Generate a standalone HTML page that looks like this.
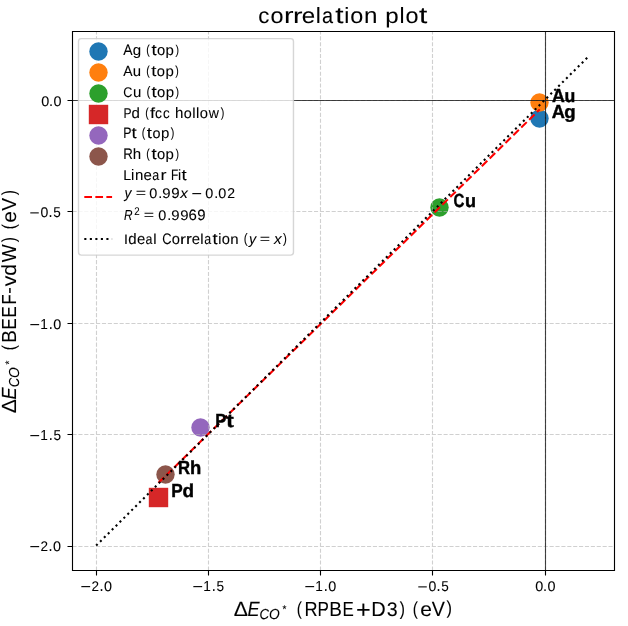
<!DOCTYPE html>
<html><head><meta charset="utf-8"><title>correlation plot</title>
<style>
html,body{margin:0;padding:0;background:#fff;}
body{width:628px;height:626px;overflow:hidden;}
svg{display:block;will-change:transform;}
text{stroke:#000;stroke-width:0.08px;font-family:"Liberation Sans",sans-serif;font-kerning:none;text-rendering:geometricPrecision;fill:#000;}
</style></head><body>
<svg width="628" height="626" viewBox="0 0 628 626">
<rect x="0" y="0" width="628" height="626" fill="#fff"/>
<g><circle cx="539.5" cy="118.5" r="9.2" fill="#1f77b4"/><circle cx="539.5" cy="102.5" r="9.2" fill="#ff7f0e"/><circle cx="439.5" cy="207.5" r="9.2" fill="#2ca02c"/><rect x="148.8" y="487.8" width="19.4" height="19.4" fill="#d62728"/><circle cx="200.5" cy="427.5" r="9.2" fill="#9467bd"/><circle cx="165.5" cy="474.5" r="9.2" fill="#8c564b"/></g>
<path d="M96.5 570.5V31.5M208.5 570.5V31.5M320.5 570.5V31.5M432.5 570.5V31.5M545.5 570.5V31.5M72.5 546.5H614.5M72.5 434.5H614.5M72.5 323.5H614.5M72.5 211.5H614.5M72.5 100.5H614.5" stroke="#b0b0b0" stroke-opacity="0.6" stroke-width="1.111" stroke-dasharray="4.11 1.78" fill="none"/>
<text transform="matrix(1.227 0 0 1.113 80.58 591.97)" font-size="14.58">−</text>
<text transform="matrix(0.929 0 0 0.961 91.52 590.81)" font-size="14.58">2</text>
<text transform="matrix(0.991 0 0 1.184 99.55 591)" font-size="14.58">.</text>
<text transform="matrix(0.988 0 0 0.961 104.08 590.82)" font-size="14.58">0</text>
<text transform="matrix(1.227 0 0 1.113 192.58 591.97)" font-size="14.58">−</text>
<text transform="matrix(0.935 0 0 0.993 203.33 591)" font-size="14.58">1</text>
<text transform="matrix(0.991 0 0 1.184 211.68 591)" font-size="14.58">.</text>
<text transform="matrix(0.933 0 0 0.981 216.41 590.84)" font-size="14.58">5</text>
<text transform="matrix(1.227 0 0 1.113 304.58 591.97)" font-size="14.58">−</text>
<text transform="matrix(0.935 0 0 0.993 315.33 591)" font-size="14.58">1</text>
<text transform="matrix(0.991 0 0 1.184 323.68 591)" font-size="14.58">.</text>
<text transform="matrix(0.988 0 0 0.963 328.21 590.84)" font-size="14.58">0</text>
<text transform="matrix(1.179 0 0 1.056 417.62 591.79)" font-size="14.58">−</text>
<text transform="matrix(0.965 0 0 0.969 428.56 590.86)" font-size="14.58">0</text>
<text transform="matrix(0.991 0 0 1.184 436.55 591)" font-size="14.58">.</text>
<text transform="matrix(0.928 0 0 0.98 441.32 590.83)" font-size="14.58">5</text>
<text transform="matrix(0.988 0 0 0.964 535.33 590.84)" font-size="14.58">0</text>
<text transform="matrix(0.994 0 0 0.89 542.92 590.75)" font-size="14.58">.</text>
<text transform="matrix(0.989 0 0 0.964 547.46 590.84)" font-size="14.58">0</text>
<text transform="matrix(1.227 0 0 1.113 29.58 551.97)" font-size="14.58">−</text>
<text transform="matrix(0.929 0 0 0.961 40.52 550.81)" font-size="14.58">2</text>
<text transform="matrix(0.991 0 0 1.184 48.55 551)" font-size="14.58">.</text>
<text transform="matrix(0.988 0 0 0.961 53.08 550.82)" font-size="14.58">0</text>
<text transform="matrix(1.227 0 0 1.113 29.58 440.97)" font-size="14.58">−</text>
<text transform="matrix(0.935 0 0 0.993 40.33 440)" font-size="14.58">1</text>
<text transform="matrix(0.991 0 0 1.184 48.68 440)" font-size="14.58">.</text>
<text transform="matrix(0.933 0 0 0.981 53.41 439.84)" font-size="14.58">5</text>
<text transform="matrix(1.227 0 0 1.113 29.58 329.97)" font-size="14.58">−</text>
<text transform="matrix(0.935 0 0 0.993 40.33 329)" font-size="14.58">1</text>
<text transform="matrix(0.991 0 0 1.184 48.68 329)" font-size="14.58">.</text>
<text transform="matrix(0.988 0 0 0.963 53.21 328.84)" font-size="14.58">0</text>
<text transform="matrix(1.179 0 0 1.056 29.62 217.79)" font-size="14.58">−</text>
<text transform="matrix(0.965 0 0 0.969 40.56 216.86)" font-size="14.58">0</text>
<text transform="matrix(0.991 0 0 1.184 48.55 217)" font-size="14.58">.</text>
<text transform="matrix(0.928 0 0 0.98 53.32 216.83)" font-size="14.58">5</text>
<text transform="matrix(0.988 0 0 0.964 41.33 105.84)" font-size="14.58">0</text>
<text transform="matrix(0.994 0 0 0.89 48.92 105.75)" font-size="14.58">.</text>
<text transform="matrix(0.989 0 0 0.964 53.46 105.84)" font-size="14.58">0</text>
<text transform="matrix(1.043 0 0 1.004 233.72 615.69)" font-size="20.42">Δ</text>
<text transform="matrix(0.887 0 0 1.004 247.45 615.69)" font-size="20.42" font-style="italic">E</text>
<text transform="matrix(0.921 0 0 1.012 259.61 618.84)" font-size="14.29" font-style="italic">C</text>
<text transform="matrix(0.964 0 0 1.012 269.06 618.84)" font-size="14.29" font-style="italic">O</text>
<text transform="matrix(1.007 0 0 1.139 282.46 613.34)" font-size="10">*</text>
<text transform="matrix(0.753 0 0 0.906 296.7 614.6)" font-size="20.42">(</text>
<text transform="matrix(0.888 0 0 0.997 304.39 616)" font-size="20.42">R</text>
<text transform="matrix(0.836 0 0 0.997 317.47 616)" font-size="20.42">P</text>
<text transform="matrix(0.927 0 0 0.997 329.32 616)" font-size="20.42">B</text>
<text transform="matrix(0.83 0 0 0.997 342.48 616)" font-size="20.42">E</text>
<text transform="matrix(1.235 0 0 1.201 355.89 618.16)" font-size="20.42">+</text>
<text transform="matrix(0.979 0 0 0.997 371.23 616)" font-size="20.42">D</text>
<text transform="matrix(0.96 0 0 0.966 386.75 615.79)" font-size="20.42">3</text>
<text transform="matrix(0.757 0 0 0.92 399.76 614.62)" font-size="20.42">)</text>
<text transform="matrix(0.753 0 0 0.906 412.7 614.6)" font-size="20.42">(</text>
<text transform="matrix(1.029 0 0 0.98 420.25 615.79)" font-size="20.42">e</text>
<text transform="matrix(0.963 0 0 1.004 431.83 615.69)" font-size="20.42">V</text>
<text transform="matrix(0.802 0 0 0.906 446.51 614.41)" font-size="20.42">)</text>
<g transform="rotate(-90)">
<text transform="matrix(1.044 0 0 1.003 -413.29 15.68)" font-size="20.42">Δ</text>
<text transform="matrix(0.888 0 0 1.003 -399.53 15.68)" font-size="20.42" font-style="italic">E</text>
<text transform="matrix(0.923 0 0 1.011 -387.35 18.83)" font-size="14.29" font-style="italic">C</text>
<text transform="matrix(0.966 0 0 1.011 -377.89 18.83)" font-size="14.29" font-style="italic">O</text>
<text transform="matrix(1.004 0 0 1.136 -364.54 13.32)" font-size="10">*</text>
<text transform="matrix(0.751 0 0 0.906 -350.3 14.59)" font-size="20.42">(</text>
<text transform="matrix(0.926 0 0 0.996 -342.67 15.99)" font-size="20.42">B</text>
<text transform="matrix(0.829 0 0 0.996 -329.51 15.99)" font-size="20.42">E</text>
<text transform="matrix(0.829 0 0 0.996 -317.51 15.99)" font-size="20.42">E</text>
<text transform="matrix(0.819 0 0 0.996 -304.49 15.99)" font-size="20.42">F</text>
<text transform="matrix(1.026 0 0 0.939 -293.93 15.34)" font-size="20.42">-</text>
<text transform="matrix(1.026 0 0 0.98 -286.21 15.68)" font-size="20.42">v</text>
<text transform="matrix(1.032 0 0 1 -275.74 15.79)" font-size="20.42">d</text>
<text transform="matrix(0.927 0 0 0.996 -262.3 15.99)" font-size="20.42">W</text>
<text transform="matrix(0.755 0 0 0.919 -242.24 14.61)" font-size="20.42">)</text>
<text transform="matrix(0.751 0 0 0.906 -229.3 14.59)" font-size="20.42">(</text>
<text transform="matrix(1.027 0 0 0.979 -222.75 15.78)" font-size="20.42">e</text>
<text transform="matrix(0.936 0 0 0.996 -210.73 15.99)" font-size="20.42">V</text>
<text transform="matrix(0.755 0 0 0.919 -195.24 14.61)" font-size="20.42">)</text>
</g>
<path d="M96.5 570.5V575.5M208.5 570.5V575.5M320.5 570.5V575.5M432.5 570.5V575.5M545.5 570.5V575.5M72.5 546.5H67.5M72.5 434.5H67.5M72.5 323.5H67.5M72.5 211.5H67.5M72.5 100.5H67.5" stroke="#000" stroke-width="1.111" fill="none"/>
<path d="M158.4 482.85L539.75 109.38" stroke="#f00" stroke-width="2.083" stroke-dasharray="7.71 3.33" fill="none"/>
<path d="M96.15 545.6L589.4 55.6" stroke="#000" stroke-width="2.083" stroke-dasharray="2.083 3.4375" fill="none"/>
<path d="M72.5 100.5H614.5M545.5 570.5V31.5" stroke="#000" stroke-opacity="0.72" stroke-width="1.111" fill="none"/>
<path d="M72.5 570.5V31.5H614.5V570.5Z" stroke="#000" stroke-width="1.111" fill="none"/>
<text transform="matrix(1.012 0 0 1.08 552.06 102)" font-size="17.5" font-weight="bold" style="stroke-width:0.4px">A</text>
<text transform="matrix(1.012 0 0 1.062 564.55 102.07)" font-size="17.5" font-weight="bold" style="stroke-width:0.4px">u</text>
<text transform="matrix(1.04 0 0 1.08 551.7 118)" font-size="17.5" font-weight="bold" style="stroke-width:0.4px">A</text>
<text transform="matrix(1.065 0 0 1.052 564.36 117.95)" font-size="17.5" font-weight="bold" style="stroke-width:0.4px">g</text>
<text transform="matrix(0.858 0 0 1.089 453.38 207.07)" font-size="17.5" font-weight="bold" style="stroke-width:0.4px">C</text>
<text transform="matrix(1.03 0 0 1.062 464.92 207.07)" font-size="17.5" font-weight="bold" style="stroke-width:0.4px">u</text>
<text transform="matrix(0.947 0 0 1.08 215.29 427)" font-size="17.5" font-weight="bold" style="stroke-width:0.4px">P</text>
<text transform="matrix(1.279 0 0 1.082 226.32 426.83)" font-size="17.5" font-weight="bold" style="stroke-width:0.4px">t</text>
<text transform="matrix(0.954 0 0 1.08 177.98 474)" font-size="17.5" font-weight="bold" style="stroke-width:0.4px">R</text>
<text transform="matrix(1.056 0 0 1.068 190.05 474)" font-size="17.5" font-weight="bold" style="stroke-width:0.4px">h</text>
<text transform="matrix(0.982 0 0 1.08 171.15 497)" font-size="17.5" font-weight="bold" style="stroke-width:0.4px">P</text>
<text transform="matrix(1.079 0 0 1.074 182.61 497.07)" font-size="17.5" font-weight="bold" style="stroke-width:0.4px">d</text>
<text transform="matrix(0.953 0 0 0.935 258.34 22.76)" font-size="23.33">c</text>
<text transform="matrix(1.003 0 0 0.934 270.55 22.76)" font-size="23.33">o</text>
<text transform="matrix(1.222 0 0 0.956 283.98 23)" font-size="23.33">r</text>
<text transform="matrix(1.224 0 0 0.922 292.91 22.7)" font-size="23.33">r</text>
<text transform="matrix(1.032 0 0 0.928 301.66 22.78)" font-size="23.33">e</text>
<text transform="matrix(0.977 0 0 0.946 315.71 23)" font-size="23.33">l</text>
<text transform="matrix(0.853 0 0 0.936 321.93 22.79)" font-size="23.33">a</text>
<text transform="matrix(1.28 0 0 0.983 335.17 22.82)" font-size="23.33">t</text>
<text transform="matrix(0.977 0 0 0.946 344.35 23)" font-size="23.33">i</text>
<text transform="matrix(1.003 0 0 0.935 350.3 22.76)" font-size="23.33">o</text>
<text transform="matrix(1.035 0 0 0.956 364.02 23)" font-size="23.33">n</text>
<text transform="matrix(1.033 0 0 0.92 385.32 22.54)" font-size="23.33">p</text>
<text transform="matrix(0.977 0 0 0.946 399.59 23)" font-size="23.33">l</text>
<text transform="matrix(1.003 0 0 0.934 405.55 22.76)" font-size="23.33">o</text>
<text transform="matrix(1.28 0 0 0.983 419.05 22.82)" font-size="23.33">t</text>
<rect x="78.5" y="38.6" width="214.97" height="216.5" rx="2.78" ry="2.78" fill="#fff" fill-opacity="0.8" stroke="#ccc" stroke-opacity="0.8" stroke-width="1.389"/>
<circle cx="98.5" cy="51.5" r="9.2" fill="#1f77b4"/>
<circle cx="98.5" cy="72.5" r="9.2" fill="#ff7f0e"/>
<circle cx="98.5" cy="93.5" r="9.2" fill="#2ca02c"/>
<rect x="88.8" y="104.8" width="19.4" height="19.4" fill="#d62728"/>
<circle cx="98.5" cy="135.5" r="9.2" fill="#9467bd"/>
<circle cx="98.5" cy="156.5" r="9.2" fill="#8c564b"/>
<path d="M84.3 197H112.08" stroke="#f00" stroke-width="2.083" stroke-dasharray="7.71 3.33" fill="none"/>
<path d="M84.3 239H112.08" stroke="#000" stroke-width="2.083" stroke-dasharray="2.083 3.4375" fill="none"/>
<text transform="matrix(0.96 0 0 1.038 123.27 55)" font-size="14.58">A</text>
<text transform="matrix(1.035 0 0 1.011 132.82 54.91)" font-size="14.58">g</text>
<text transform="matrix(0.729 0 0 0.907 146.36 53.74)" font-size="14.58">(</text>
<text transform="matrix(1.273 0 0 1.051 151.41 54.88)" font-size="14.58">t</text>
<text transform="matrix(1.013 0 0 1.027 156.91 55.05)" font-size="14.58">o</text>
<text transform="matrix(1.029 0 0 0.992 165.53 54.81)" font-size="14.58">p</text>
<text transform="matrix(0.729 0 0 0.876 175.4 53.68)" font-size="14.58">)</text>
<text transform="matrix(0.958 0 0 1.009 123.27 75.8)" font-size="14.58">A</text>
<text transform="matrix(1.025 0 0 1.016 132.87 75.85)" font-size="14.58">u</text>
<text transform="matrix(0.731 0 0 0.895 146.24 74.73)" font-size="14.58">(</text>
<text transform="matrix(1.271 0 0 1.021 151.34 75.69)" font-size="14.58">t</text>
<text transform="matrix(1.011 0 0 0.998 156.82 75.86)" font-size="14.58">o</text>
<text transform="matrix(1.029 0 0 0.979 165.41 75.73)" font-size="14.58">p</text>
<text transform="matrix(0.729 0 0 0.887 175.28 74.71)" font-size="14.58">)</text>
<text transform="matrix(0.873 0 0 0.964 123.14 96.84)" font-size="14.58">C</text>
<text transform="matrix(1.029 0 0 1.019 132.9 96.85)" font-size="14.58">u</text>
<text transform="matrix(0.807 0 0 0.939 146.42 96.01)" font-size="14.58">(</text>
<text transform="matrix(1.276 0 0 1.054 151.47 96.84)" font-size="14.58">t</text>
<text transform="matrix(1.015 0 0 1.03 156.98 97.02)" font-size="14.58">o</text>
<text transform="matrix(1.029 0 0 1.004 165.66 96.9)" font-size="14.58">p</text>
<text transform="matrix(0.729 0 0 0.882 175.53 95.62)" font-size="14.58">)</text>
<text transform="matrix(0.829 0 0 0.966 123.38 117.69)" font-size="14.58">P</text>
<text transform="matrix(1.03 0 0 1.018 131.56 117.82)" font-size="14.58">d</text>
<text transform="matrix(0.731 0 0 0.895 145.24 116.73)" font-size="14.58">(</text>
<text transform="matrix(1.253 0 0 1.006 150.11 117.62)" font-size="14.58">f</text>
<text transform="matrix(0.957 0 0 1.004 155.12 117.67)" font-size="14.58">c</text>
<text transform="matrix(0.916 0 0 0.994 162.97 117.83)" font-size="14.58">c</text>
<text transform="matrix(1.036 0 0 1.041 174.95 118)" font-size="14.58">h</text>
<text transform="matrix(0.988 0 0 0.995 183.71 117.83)" font-size="14.58">o</text>
<text transform="matrix(1.028 0 0 0.994 192.24 117.75)" font-size="14.58">l</text>
<text transform="matrix(1.028 0 0 1.018 196.11 117.88)" font-size="14.58">l</text>
<text transform="matrix(1.014 0 0 1.004 199.83 117.67)" font-size="14.58">o</text>
<text transform="matrix(0.964 0 0 0.992 208.79 117.62)" font-size="14.58">w</text>
<text transform="matrix(0.741 0 0 0.911 220.86 116.71)" font-size="14.58">)</text>
<text transform="matrix(0.846 0 0 1.046 123.36 138.01)" font-size="14.58">P</text>
<text transform="matrix(1.278 0 0 1.06 131.49 137.88)" font-size="14.58">t</text>
<text transform="matrix(0.731 0 0 0.889 141.86 136.63)" font-size="14.58">(</text>
<text transform="matrix(1.277 0 0 1.046 146.84 137.87)" font-size="14.58">t</text>
<text transform="matrix(0.988 0 0 0.996 152.46 137.84)" font-size="14.58">o</text>
<text transform="matrix(1.029 0 0 1.012 161.03 137.94)" font-size="14.58">p</text>
<text transform="matrix(0.741 0 0 0.911 170.86 136.71)" font-size="14.58">)</text>
<text transform="matrix(0.912 0 0 1.038 123.28 158.85)" font-size="14.58">R</text>
<text transform="matrix(1.035 0 0 1.027 132.87 158.85)" font-size="14.58">h</text>
<text transform="matrix(0.729 0 0 0.907 146.36 157.74)" font-size="14.58">(</text>
<text transform="matrix(1.274 0 0 1.051 151.39 158.73)" font-size="14.58">t</text>
<text transform="matrix(1.014 0 0 1.026 156.89 158.91)" font-size="14.58">o</text>
<text transform="matrix(1.029 0 0 0.992 165.53 158.81)" font-size="14.58">p</text>
<text transform="matrix(0.729 0 0 0.876 175.4 157.68)" font-size="14.58">)</text>
<text transform="matrix(0.97 0 0 0.966 123.21 180)" font-size="14.58">L</text>
<text transform="matrix(1.025 0 0 1.041 131 180)" font-size="14.58">i</text>
<text transform="matrix(1.029 0 0 1.019 134.88 180)" font-size="14.58">n</text>
<text transform="matrix(1.031 0 0 1.022 143.56 179.85)" font-size="14.58">e</text>
<text transform="matrix(0.858 0 0 1.022 152.29 179.85)" font-size="14.58">a</text>
<text transform="matrix(1.235 0 0 1.019 160.55 180)" font-size="14.58">r</text>
<text transform="matrix(0.818 0 0 1.033 171.03 179.8)" font-size="14.58">F</text>
<text transform="matrix(0.976 0 0 1.022 178 179.8)" font-size="14.58">i</text>
<text transform="matrix(1.276 0 0 1.046 181.6 179.68)" font-size="14.58">t</text>
<text transform="matrix(0.946 0 0 1.021 124.53 197.9)" font-size="14.58" font-style="italic">y</text>
<text transform="matrix(1.213 0 0 0.872 135.66 197.28)" font-size="14.58">=</text>
<text transform="matrix(0.988 0 0 0.964 149.33 197.84)" font-size="14.58">0</text>
<text transform="matrix(0.994 0 0 1.039 158.17 197.88)" font-size="14.58">.</text>
<text transform="matrix(1.025 0 0 0.963 162.25 197.84)" font-size="14.58">9</text>
<text transform="matrix(1.031 0 0 1 171.31 198.21)" font-size="14.58">9</text>
<text transform="matrix(1.041 0 0 0.969 180.17 198.16)" font-size="14.58" font-style="italic">x</text>
<text transform="matrix(1.227 0 0 1.113 191.58 198.97)" font-size="14.58">−</text>
<text transform="matrix(0.988 0 0 0.964 205.33 197.84)" font-size="14.58">0</text>
<text transform="matrix(0.994 0 0 1.039 214.17 197.88)" font-size="14.58">.</text>
<text transform="matrix(0.988 0 0 0.964 218.33 197.84)" font-size="14.58">0</text>
<text transform="matrix(0.96 0 0 0.977 227.3 198)" font-size="14.58">2</text>
<text transform="matrix(0.811 0 0 0.996 124.11 220)" font-size="14.58" font-style="italic">R</text>
<text transform="matrix(0.949 0 0 1.099 134.28 215)" font-size="10.21">2</text>
<text transform="matrix(1.213 0 0 0.872 143.66 219.28)" font-size="14.58">=</text>
<text transform="matrix(0.988 0 0 0.964 158.33 219.84)" font-size="14.58">0</text>
<text transform="matrix(0.994 0 0 1.039 167.17 219.88)" font-size="14.58">.</text>
<text transform="matrix(1.025 0 0 0.963 171.25 219.84)" font-size="14.58">9</text>
<text transform="matrix(1.025 0 0 0.963 180.25 219.84)" font-size="14.58">9</text>
<text transform="matrix(1.026 0 0 1.023 188.57 219.85)" font-size="14.58">6</text>
<text transform="matrix(1.024 0 0 1.023 197.25 219.85)" font-size="14.58">9</text>
<text transform="matrix(0.969 0 0 0.935 124.07 243.69)" font-size="14.58">I</text>
<text transform="matrix(1.031 0 0 1.039 128.22 244.06)" font-size="14.58">d</text>
<text transform="matrix(1.025 0 0 1.034 136.99 244.06)" font-size="14.58">e</text>
<text transform="matrix(0.853 0 0 0.994 145.4 243.86)" font-size="14.58">a</text>
<text transform="matrix(1.028 0 0 0.994 153.24 243.75)" font-size="14.58">l</text>
<text transform="matrix(0.881 0 0 1.054 162.2 244.06)" font-size="14.58">C</text>
<text transform="matrix(1.009 0 0 1.034 171.87 244.06)" font-size="14.58">o</text>
<text transform="matrix(1.235 0 0 0.979 180.05 243.75)" font-size="14.58">r</text>
<text transform="matrix(1.216 0 0 1.027 185.94 244.01)" font-size="14.58">r</text>
<text transform="matrix(1.025 0 0 1.034 191.67 244.06)" font-size="14.58">e</text>
<text transform="matrix(1.028 0 0 0.994 200.24 243.75)" font-size="14.58">l</text>
<text transform="matrix(0.853 0 0 1.034 204.19 244.06)" font-size="14.58">a</text>
<text transform="matrix(1.268 0 0 1.058 212.45 243.89)" font-size="14.58">t</text>
<text transform="matrix(0.97 0 0 1.034 218.14 244.01)" font-size="14.58">i</text>
<text transform="matrix(1.009 0 0 1.034 221.77 244.06)" font-size="14.58">o</text>
<text transform="matrix(1.03 0 0 0.98 230.25 243.75)" font-size="14.58">n</text>
<text transform="matrix(0.802 0 0 0.943 243.69 243.06)" font-size="14.58">(</text>
<text transform="matrix(0.982 0 0 1.012 249.09 243.94)" font-size="14.58" font-style="italic">y</text>
<text transform="matrix(1.213 0 0 0.872 259.66 243.28)" font-size="14.58">=</text>
<text transform="matrix(1.043 0 0 1.021 274.02 244.01)" font-size="14.58" font-style="italic">x</text>
<text transform="matrix(0.802 0 0 0.943 282.99 243.06)" font-size="14.58">)</text>
</svg>
</body></html>
